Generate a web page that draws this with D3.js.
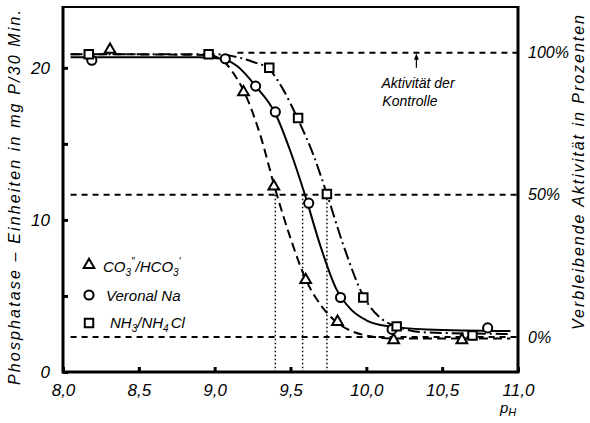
<!DOCTYPE html>
<html>
<head>
<meta charset="utf-8">
<script src="https://cdn.jsdelivr.net/npm/d3@7"></script>
<style>
  body { margin: 0; background: #fff; }
  text { font-family: "Liberation Sans", "DejaVu Sans", sans-serif; font-style: italic; fill: #000; }
</style>
</head>
<body>
<div id="chart"></div>
<script>
// measured points (pH, units)
const carbonatPts = [[8.31, 21.2], [9.19, 18.4], [9.39, 12.2], [9.60, 6.05], [9.81, 3.3], [10.18, 2.1], [10.63, 2.1]];
const veronalPts = [[8.19, 20.5], [9.07, 20.6], [9.27, 18.8], [9.40, 17.1], [9.62, 11.1], [9.83, 4.9], [10.17, 2.8], [10.80, 2.9]];
const ammonPts = [[8.17, 20.9], [8.96, 20.9], [9.36, 20.0], [9.55, 16.7], [9.74, 11.7], [9.98, 4.9], [10.20, 3.0], [10.70, 2.4]];

// hand drawn curves
const carbonatCurve = [[8.05, 20.9], [8.95, 20.85], [9.05, 20.5], [9.12, 19.7], [9.2, 18.3], [9.3, 15.6], [9.4, 12.0], [9.5, 8.8], [9.6, 6.1], [9.7, 4.4], [9.8, 3.3], [9.9, 2.7], [10.0, 2.4], [10.2, 2.2], [10.95, 2.2]];
const veronalCurve = [[8.05, 20.7], [8.9, 20.7], [9.05, 20.6], [9.15, 20.1], [9.27, 18.8], [9.4, 17.0], [9.5, 14.5], [9.6, 11.5], [9.7, 8.2], [9.8, 5.5], [9.9, 4.1], [10.0, 3.4], [10.15, 3.0], [10.4, 2.8], [10.95, 2.7]];
const ammonCurve = [[8.05, 20.9], [9.0, 20.9], [9.15, 20.7], [9.25, 20.4], [9.36, 19.9], [9.45, 18.6], [9.55, 16.6], [9.65, 14.3], [9.74, 11.7], [9.85, 8.3], [9.98, 5.0], [10.1, 3.5], [10.2, 3.0], [10.4, 2.6], [10.95, 2.5]];

const xTicks = [8.0, 8.5, 9.0, 9.5, 10.0, 10.5, 11.0];
const yTicks = [0, 10, 20];
const yMinor = [5, 15];
const pctTicks = [0, 50, 100];
const halfPH = [9.40, 9.58, 9.74];   // pH of 50 % activity

const width = 590, height = 423;
const svg = d3.select("#chart").append("svg")
  .attr("width", width).attr("height", height);

const x = d3.scaleLinear().domain([8, 11]).range([63, 518]);
const y = d3.scaleLinear().domain([0, 24]).range([372, 7]);
// right axis: 0 % = 2.3 units, 100 % = 21.0 units
const pct = d3.scaleLinear().domain([0, 100]).range([y(2.3), y(21.0)]);

// reference lines
const refs = [
  { v: 100, x0: 9.15 },
  { v: 50, x0: 8.05 },
  { v: 0, x0: 8.05 }
];
svg.selectAll(".ref").data(refs).enter().append("line")
  .attr("x1", d => x(d.x0)).attr("x2", x(11))
  .attr("y1", d => pct(d.v)).attr("y2", d => pct(d.v))
  .attr("stroke", "#000").attr("stroke-width", 2)
  .attr("stroke-dasharray", "6,5");

svg.selectAll(".drop").data(halfPH).enter().append("line")
  .attr("x1", d => x(d)).attr("x2", d => x(d))
  .attr("y1", pct(50)).attr("y2", y(0))
  .attr("stroke", "#000").attr("stroke-width", 1.5)
  .attr("stroke-dasharray", "1.5,2.5");

// curves
const line = d3.line().x(d => x(d[0])).y(d => y(d[1])).curve(d3.curveMonotoneX);
const curves = [
  { data: carbonatCurve, dash: "9,5" },
  { data: veronalCurve, dash: null },
  { data: ammonCurve, dash: "12,4,2,4" }
];
svg.selectAll(".curve").data(curves).enter().append("path")
  .attr("d", d => line(d.data))
  .attr("fill", "none").attr("stroke", "#000").attr("stroke-width", 2)
  .attr("stroke-dasharray", d => d.dash);

// markers
const symTri = d3.symbol(d3.symbolTriangle, 50);
const symCirc = d3.symbol(d3.symbolCircle, 66);
const symSq = d3.symbol(d3.symbolSquare, 72);
const series = [
  { pts: carbonatPts, sym: symTri },
  { pts: veronalPts, sym: symCirc },
  { pts: ammonPts, sym: symSq }
];
series.forEach(s => {
  svg.append("g").selectAll("path").data(s.pts).enter().append("path")
    .attr("d", s.sym())
    .attr("transform", d => `translate(${x(d[0])},${y(d[1])})`)
    .attr("fill", "#fff").attr("stroke", "#000").attr("stroke-width", 2);
});

// axes
const fmt = d => d3.format(".1f")(d).replace(".", ",");
const xAxis = svg.append("g").attr("transform", `translate(0,${y(0)})`)
  .call(d3.axisBottom(x).tickValues(xTicks).tickFormat(fmt).tickSizeInner(-5).tickSizeOuter(0).tickPadding(12));
xAxis.select(".domain").remove();
xAxis.selectAll(".tick line").attr("stroke-width", 3);
xAxis.selectAll("text").attr("font-size", 17).attr("font-family", null);

const yAxis = svg.append("g").attr("transform", `translate(${x(8)},0)`)
  .call(d3.axisLeft(y).tickValues(yTicks.concat(yMinor)).tickFormat(d => yTicks.includes(d) ? d : "")
    .tickSizeInner(-5).tickSizeOuter(0).tickPadding(13));
yAxis.select(".domain").remove();
yAxis.selectAll(".tick line").attr("stroke-width", 3);
yAxis.selectAll("text").attr("font-size", 17).attr("font-family", null);

const rAxis = svg.append("g").attr("transform", `translate(${x(11)},0)`)
  .call(d3.axisRight(pct).tickValues(pctTicks).tickFormat(d => d + "%").tickSize(0).tickPadding(10));
rAxis.select(".domain").remove();
rAxis.selectAll("text").attr("font-size", 16).attr("font-family", null);

// frame
svg.append("line").attr("x1", x(8)).attr("x2", x(11)).attr("y1", y(24)).attr("y2", y(24))
  .attr("stroke", "#000").attr("stroke-width", 2);
svg.append("path")
  .attr("d", `M${x(8)},${y(24) - 1}V${y(0)}H${x(11)}V${y(24) - 1}`)
  .attr("fill", "none").attr("stroke", "#000").attr("stroke-width", 3);

// annotation
const ax = x(10.33);
svg.append("line").attr("x1", ax).attr("x2", ax).attr("y1", y(20.0)).attr("y2", pct(100) + 2)
  .attr("stroke", "#000").attr("stroke-width", 1.2);
svg.append("path").attr("d", `M${ax},${pct(100) + 1}l-2.5,6h5z`).attr("fill", "#000");
svg.append("text").attr("x", 418).attr("y", 88).attr("text-anchor", "middle")
  .attr("font-size", 14).text("Aktivität der");
svg.append("text").attr("x", 410).attr("y", 106).attr("text-anchor", "middle")
  .attr("font-size", 14).text("Kontrolle");

// legend
const legend = [
  { sym: symTri, cy: 265, tx: 103, ty: 272 },
  { sym: symCirc, cy: 295, tx: 106, ty: 301 },
  { sym: symSq, cy: 323, tx: 110, ty: 328 }
];
legend.forEach(l => {
  svg.append("path").attr("d", l.sym()).attr("transform", `translate(89,${l.cy})`)
    .attr("fill", "#fff").attr("stroke", "#000").attr("stroke-width", 2);
});
const t1 = svg.append("text").attr("x", legend[0].tx).attr("y", legend[0].ty).attr("font-size", 15);
t1.append("tspan").text("CO");
t1.append("tspan").attr("font-size", 10).attr("dy", 4).text("3");
t1.append("tspan").attr("font-size", 10).attr("dy", -11).text("\u2033");
t1.append("tspan").attr("dy", 7).attr("dx", 1).text("/HCO");
t1.append("tspan").attr("font-size", 10).attr("dy", 4).text("3");
t1.append("tspan").attr("font-size", 10).attr("dy", -11).text("\u2032");
svg.append("text").attr("x", legend[1].tx).attr("y", legend[1].ty).attr("font-size", 15).text("Veronal Na");
const t3 = svg.append("text").attr("x", legend[2].tx).attr("y", legend[2].ty).attr("font-size", 15);
t3.append("tspan").text("NH");
t3.append("tspan").attr("font-size", 10).attr("dy", 4).text("3");
t3.append("tspan").attr("dy", -4).text("/NH");
t3.append("tspan").attr("font-size", 10).attr("dy", 4).text("4");
t3.append("tspan").attr("dy", -4).attr("dx", 2).text("Cl");

// axis titles
svg.append("text").attr("transform", "translate(20,385) rotate(-90)")
  .attr("font-size", 16).attr("textLength", 375).attr("lengthAdjust", "spacing")
  .text("Phosphatase – Einheiten in mg P/30 Min.");
svg.append("text").attr("transform", "translate(584,330) rotate(-90)")
  .attr("font-size", 16).attr("textLength", 315).attr("lengthAdjust", "spacing")
  .text("Verbleibende Aktivität in Prozenten");

const ph = svg.append("text").attr("x", 500).attr("y", 413).attr("font-size", 15);
ph.append("tspan").text("p");
ph.append("tspan").attr("font-size", 11).attr("dy", 3).text("H");
</script>
</body>
</html>
